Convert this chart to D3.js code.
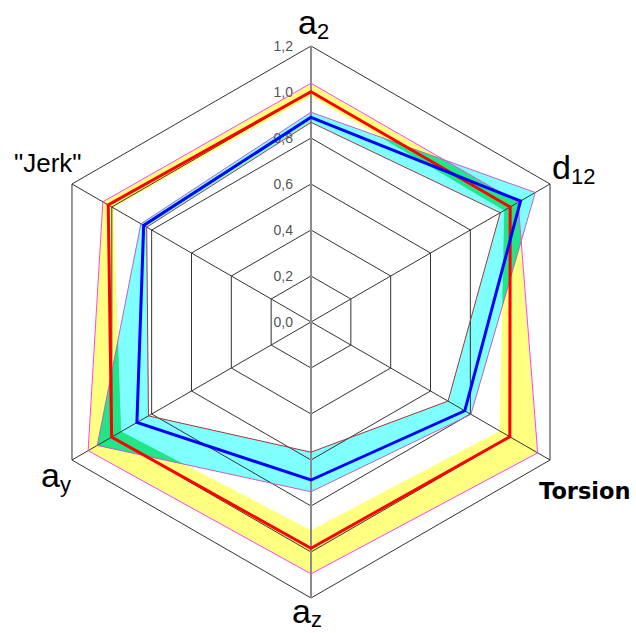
<!DOCTYPE html>
<html>
<head>
<meta charset="utf-8">
<script src="https://cdn.jsdelivr.net/npm/d3@7"></script>
<style>
  html, body { margin: 0; padding: 0; background: #fff; }
  svg { display: block; }
  text { font-family: "Liberation Sans", Arial, sans-serif; }
</style>
</head>
<body>
<svg id="chart" width="636" height="633"></svg>
<script>
// Radar axes, clockwise from the top
const axes = ["a2", "d12", "Torsion", "az", "ay", "Jerk"];

// Grid rings and their labels
const tickValues = [0.0, 0.2, 0.4, 0.6, 0.8, 1.0, 1.2];
const tickLabels = ["0,0", "0,2", "0,4", "0,6", "0,8", "1,0", "1,2"];

// Group A: envelope (upper / lower) and mean
const groupAUpper = [1.038, 1.040, 1.138, 1.095, 1.119, 1.045];
const groupAMean  = [1.001, 1.000, 0.998, 0.984, 1.001, 1.018];
const groupALower = [0.983, 0.970, 0.947, 0.905, 0.953, 0.992];

// Group B: envelope (upper / lower) and mean
const groupBUpper = [0.912, 1.126, 0.803, 0.738, 1.073, 0.854];
const groupBMean  = [0.890, 1.052, 0.772, 0.687, 0.874, 0.840];
const groupBLower = [0.868, 0.950, 0.688, 0.566, 0.816, 0.825];

const svg = d3.select("#chart");
const cx = 311, cy = 322;
const r = d3.scaleLinear().domain([0, 1.2]).range([0, 276]);
const angle = d3.scaleLinear().domain([0, axes.length]).range([0, 2 * Math.PI]);

const radial = d3.lineRadial()
  .angle((d, i) => angle(i))
  .radius(d => r(d))
  .curve(d3.curveLinearClosed);

const g = svg.append("g").attr("transform", `translate(${cx},${cy})`);
const defs = svg.append("defs");

// ring between two closed polygons (even-odd fill)
const band = (outer, inner) => radial(outer) + radial(inner);

// Filled envelopes
g.append("path").attr("d", band(groupAUpper, groupALower))
  .attr("fill", "#ffff80").attr("fill-rule", "evenodd");
g.append("path").attr("d", band(groupBUpper, groupBLower))
  .attr("fill", "#80ffff").attr("fill-rule", "evenodd");

// where the two envelopes overlap
defs.append("clipPath").attr("id", "envA")
  .append("path").attr("d", band(groupAUpper, groupALower))
  .attr("clip-rule", "evenodd");
g.append("path").attr("d", band(groupBUpper, groupBLower))
  .attr("fill", "#20e688").attr("fill-rule", "evenodd")
  .attr("clip-path", "url(#envA)");

// Grid rings
const ringLine = v => radial(axes.map(() => v));
g.selectAll("path.ring").data(tickValues.filter(v => v > 0)).join("path")
  .attr("class", "ring")
  .attr("d", d => ringLine(d))
  .attr("fill", "none").attr("stroke", "#333").attr("stroke-width", 1);

// Spokes
const pt = (i, v) => [r(v) * Math.sin(angle(i)), -r(v) * Math.cos(angle(i))];
g.selectAll("line.spoke").data(axes).join("line")
  .attr("class", "spoke")
  .attr("x1", 0).attr("y1", 0)
  .attr("x2", (d, i) => pt(i, 1.2)[0])
  .attr("y2", (d, i) => pt(i, 1.2)[1])
  .attr("stroke", "#333").attr("stroke-width", 1);
// vertical value axis
g.append("line")
  .attr("x1", 0).attr("x2", 0)
  .attr("y1", -r(1.2)).attr("y2", r(1.2))
  .attr("stroke", "#8c8c8c").attr("stroke-width", 2);

// Tick labels along the value axis
g.selectAll("text.tick").data(tickValues).join("text")
  .attr("class", "tick")
  .attr("x", -18)
  .attr("y", d => -r(d) + 5)
  .attr("text-anchor", "end")
  .attr("font-size", 14)
  .attr("fill", "#555")
  .text((d, i) => tickLabels[i]);

// Envelope outlines and means
const outline = (vals, color, width) =>
  g.append("path").attr("d", radial(vals))
    .attr("fill", "none").attr("stroke", color)
    .attr("stroke-width", width).attr("stroke-linejoin", "miter");

outline(groupAUpper, "#ff40ff", 1);
outline(groupBUpper, "#c060c0", 1);
outline(groupBLower, "#a03838", 1);
outline(groupAMean, "#ff0000", 3);
outline(groupBMean, "#0000ff", 3);

// Axis titles
const titles = svg.append("g");
const addTitle = (x, y, main, sub, opts = {}) => {
  const t = titles.append("text").attr("x", x).attr("y", y)
    .attr("font-size", opts.size || 34).attr("fill", "#000");
  if (opts.family) t.style("font-family", opts.family);
  if (opts.weight) t.attr("font-weight", opts.weight);
  t.append("tspan").text(main);
  if (sub) t.append("tspan").attr("font-size", opts.subSize || 22)
    .attr("dy", opts.subDy || 5).text(sub);
};
const vtx = i => [cx + pt(i, 1.2)[0], cy + pt(i, 1.2)[1]];

addTitle(vtx(0)[0] - 13, vtx(0)[1] - 12, "a", "2");
addTitle(vtx(1)[0] + 2, vtx(1)[1] - 5, "d", "12");
addTitle(vtx(2)[0] - 11, vtx(2)[1] + 39, "Torsion", null,
  { size: 22.5, weight: "bold", family: "'DejaVu Sans', sans-serif" });
addTitle(vtx(3)[0] - 19, vtx(3)[1] + 25, "a", "z", { subDy: 4 });
addTitle(vtx(4)[0] - 31, vtx(4)[1] + 27, "a", "y");
addTitle(vtx(5)[0] - 58, vtx(5)[1] - 12, "\"Jerk\"", null, { size: 26 });
</script>
</body>
</html>
